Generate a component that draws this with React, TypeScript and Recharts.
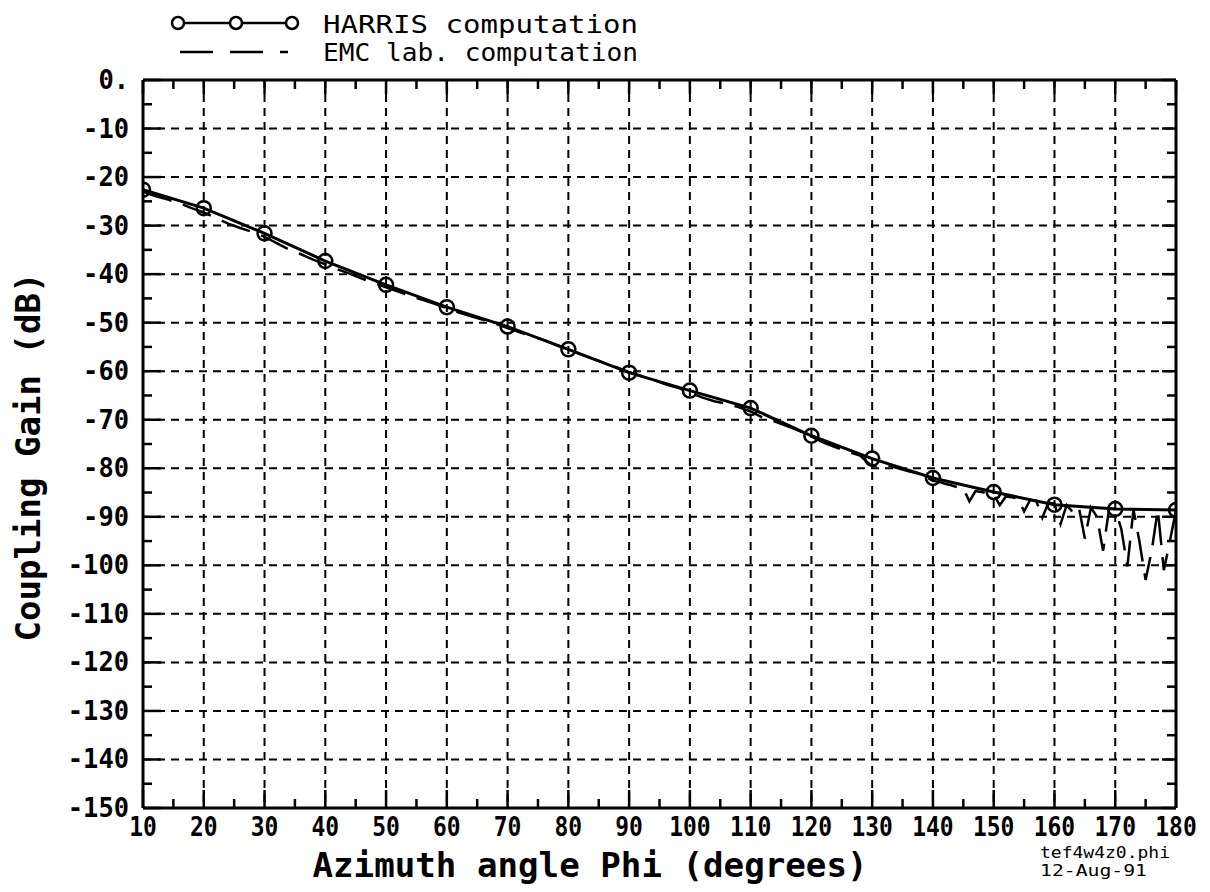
import { CartesianGrid, Line, LineChart, XAxis, YAxis } from 'recharts';

const harrisPhi = [10, 20, 30, 40, 50, 60, 70, 80, 90, 100, 110, 120, 130, 140, 150, 160, 170, 180];
const harrisGain = [-22.6, -26.4, -31.6, -37.3, -42.2, -46.8, -50.8, -55.5, -60.3, -64.0, -67.6, -73.3, -78.0, -82.0, -84.9, -87.5, -88.4, -88.6];

const emcPhi = [
  10, 12, 14, 16, 18, 20, 22, 24, 26, 28, 30, 32, 34, 36, 38, 40, 42, 44, 46, 48, 50, 52, 54, 56, 58, 60,
  62, 64, 66, 68, 70, 72, 74, 76, 78, 80, 82, 84, 86, 88, 90, 92, 94, 96, 98, 100, 102, 104, 106, 108, 110,
  112, 114, 116, 118, 120, 122, 124, 126, 128, 130, 132, 134, 136, 138, 140,
  141, 142, 143, 144, 145, 146, 147, 148, 149, 150, 151, 152, 153, 154, 155, 156, 157, 158, 159, 160,
  161, 162, 163, 164, 165, 166, 167, 168, 169, 170, 171, 172, 173, 174, 175, 176, 177, 178, 179, 180,
];
const emcGain = [
  -23.0, -23.9, -24.6, -25.4, -26.4, -27.3, -28.4, -29.6, -30.5, -31.3, -32.3, -33.6, -34.9, -35.9, -37.0, -38.0,
  -39.0, -39.9, -40.9, -41.8, -42.7, -43.6, -44.5, -45.3, -46.1, -47.0, -47.9, -48.7, -49.4, -50.2, -51.1, -52.0,
  -52.8, -53.6, -54.6, -55.6, -56.5, -57.4, -58.3, -59.2, -60.2, -61.0, -61.8, -62.7, -63.4, -64.4, -65.4, -66.2,
  -66.7, -67.4, -68.3, -69.6, -70.4, -71.3, -72.3, -73.5, -74.7, -75.7, -76.6, -77.4, -79.6, -79.2, -79.9, -80.6,
  -81.2, -82.6,
  -82.8, -83.2, -83.5, -83.9, -84.2, -86.8, -84.7, -84.9, -85.2, -85.4, -87.6, -85.8, -86.0, -86.2, -88.9, -86.5,
  -86.7, -90.2, -87.1, -87.3, -91.5, -87.6, -89.0, -87.9, -94.5, -88.1, -90.0, -97.0, -88.3, -88.4, -92.5, -100.2,
  -88.5, -95.2, -103.0, -97.0, -88.5, -101.0, -95.0, -88.6,
];

const xMajorTicks = [10, 20, 30, 40, 50, 60, 70, 80, 90, 100, 110, 120, 130, 140, 150, 160, 170, 180];
const xMinorTicks = [15, 25, 35, 45, 55, 65, 75, 85, 95, 105, 115, 125, 135, 145, 155, 165, 175];
const yMajorTicks = [0, -10, -20, -30, -40, -50, -60, -70, -80, -90, -100, -110, -120, -130, -140, -150];
const yMinorTicks = [-5, -15, -25, -35, -45, -55, -65, -75, -85, -95, -105, -115, -125, -135, -145];
const yTickLabels = ['0.', '-10', '-20', '-30', '-40', '-50', '-60', '-70', '-80', '-90', '-100', '-110', '-120', '-130', '-140', '-150'];

const harrisData = harrisPhi.map((phi, i) => ({ phi, gain: harrisGain[i] }));
const emcData = emcPhi.map((phi, i) => ({ phi, gain: emcGain[i] }));
const xTicks = [...xMajorTicks, ...xMinorTicks].sort((a, b) => a - b);
const yTicks = [...yMajorTicks, ...yMinorTicks].sort((a, b) => b - a);

const FONT = '"DejaVu Sans Mono", monospace';
const INK = '#000';

function BottomTick(props: any) {
  const { x, y, payload } = props;
  const v = payload.value;
  const major = v % 10 === 0;
  const label = String(v);
  return (
    <g>
      <line x1={x} x2={x} y1={y} y2={y - (major ? 18 : 9)} stroke={INK} strokeWidth={2.5} />
      {major && (
        <text x={x} y={y + 28} textAnchor="middle" fontFamily={FONT} fontWeight="bold" fontSize={26} fill={INK}
          textLength={label.length * 13.8} lengthAdjust="spacingAndGlyphs">
          {label}
        </text>
      )}
    </g>
  );
}

function TopTick(props: any) {
  const { x, y, payload } = props;
  const major = payload.value % 10 === 0;
  return <line x1={x} x2={x} y1={y} y2={y + (major ? 14 : 9)} stroke={INK} strokeWidth={2.5} />;
}

function LeftTick(props: any) {
  const { x, y, payload } = props;
  const v = payload.value;
  const major = v % 10 === 0;
  const label = major ? yTickLabels[yMajorTicks.indexOf(v)] : '';
  return (
    <g>
      <line x1={x} x2={x + (major ? 18 : 9)} y1={y} y2={y} stroke={INK} strokeWidth={2.5} />
      {major && (
        <text x={x - 14} y={y + 9} textAnchor="end" fontFamily={FONT} fontWeight="bold" fontSize={26} fill={INK}
          textLength={label.length * 15.3} lengthAdjust="spacingAndGlyphs">
          {label}
        </text>
      )}
    </g>
  );
}

function RightTick(props: any) {
  const { x, y, payload } = props;
  const major = payload.value % 10 === 0;
  return <line x1={x} x2={x - (major ? 14 : 9)} y1={y} y2={y} stroke={INK} strokeWidth={2.5} />;
}

function Overlay() {
  const txt = { fontFamily: FONT, fill: INK } as const;
  return (
    <svg width={1210} height={892} style={{ position: 'absolute', left: 0, top: 0, pointerEvents: 'none' }}>
      {/* legend */}
      <line x1={178} x2={292} y1={23} y2={23} stroke={INK} strokeWidth={2.5} />
      {[178, 236, 292].map((cx) => (
        <circle key={cx} cx={cx} cy={23} r={6} fill="#fff" stroke={INK} strokeWidth={2.5} />
      ))}
      <text x={323} y={33} fontSize={24} textLength={315} lengthAdjust="spacingAndGlyphs" {...txt}>
        HARRIS computation
      </text>
      <line x1={180} x2={288} y1={52} y2={52} stroke={INK} strokeWidth={2.5} strokeDasharray="33 17" />
      <text x={323} y={61} fontSize={24} textLength={315} lengthAdjust="spacingAndGlyphs" {...txt}>
        EMC lab. computation
      </text>

      {/* axis titles */}
      <text x={28} y={457} transform="rotate(-90 28 457)" dy={12} textAnchor="middle" fontSize={34} fontWeight="bold"
        textLength={369} lengthAdjust="spacingAndGlyphs" {...txt}>
        Coupling Gain (dB)
      </text>
      <text x={590} y={877} textAnchor="middle" fontSize={33} fontWeight="bold" textLength={555}
        lengthAdjust="spacingAndGlyphs" {...txt}>
        Azimuth angle Phi (degrees)
      </text>

      {/* file stamp */}
      <text x={1040} y={858} fontSize={16} textLength={130} lengthAdjust="spacingAndGlyphs" {...txt}>
        tef4w4z0.phi
      </text>
      <text x={1040} y={876} fontSize={16} textLength={107} lengthAdjust="spacingAndGlyphs" {...txt}>
        12-Aug-91
      </text>
    </svg>
  );
}

export default function App() {
  return (
    <div style={{ position: 'absolute', left: 0, top: 0, width: 1210, height: 892, background: '#fff' }}>
      <LineChart width={1210} height={892} margin={{ top: 50, right: 4, bottom: 54, left: 113 }}>
        <CartesianGrid
          verticalValues={xMajorTicks}
          horizontalValues={yMajorTicks}
          stroke={INK}
          strokeWidth={2}
          strokeDasharray="8 6"
        />
        <XAxis
          dataKey="phi"
          type="number"
          domain={[10, 180]}
          ticks={xTicks}
          interval={0}
          height={30}
          tickSize={0}
          tickMargin={0}
          tick={<BottomTick />}
          axisLine={{ stroke: INK, strokeWidth: 3 }}
          allowDataOverflow
        />
        <XAxis
          xAxisId="top"
          orientation="top"
          dataKey="phi"
          type="number"
          domain={[10, 180]}
          ticks={xTicks}
          interval={0}
          height={30}
          tickSize={0}
          tickMargin={0}
          tick={<TopTick />}
          axisLine={{ stroke: INK, strokeWidth: 3 }}
          allowDataOverflow
        />
        <YAxis
          type="number"
          domain={[-150, 0]}
          ticks={yTicks}
          interval={0}
          width={30}
          tickSize={0}
          tickMargin={0}
          tick={<LeftTick />}
          axisLine={{ stroke: INK, strokeWidth: 3 }}
          allowDataOverflow
        />
        <YAxis
          yAxisId="right"
          orientation="right"
          type="number"
          domain={[-150, 0]}
          ticks={yTicks}
          interval={0}
          width={30}
          tickSize={0}
          tickMargin={0}
          tick={<RightTick />}
          axisLine={{ stroke: INK, strokeWidth: 3 }}
          allowDataOverflow
        />
        <Line
          data={emcData}
          dataKey="gain"
          type="linear"
          stroke={INK}
          strokeWidth={2.5}
          strokeDasharray="30 12"
          dot={false}
          isAnimationActive={false}
        />
        <Line
          data={harrisData}
          dataKey="gain"
          type="linear"
          stroke={INK}
          strokeWidth={3}
          dot={{ r: 7, fill: 'none', stroke: INK, strokeWidth: 2.5 }}
          isAnimationActive={false}
        />
      </LineChart>
      <Overlay />
    </div>
  );
}
